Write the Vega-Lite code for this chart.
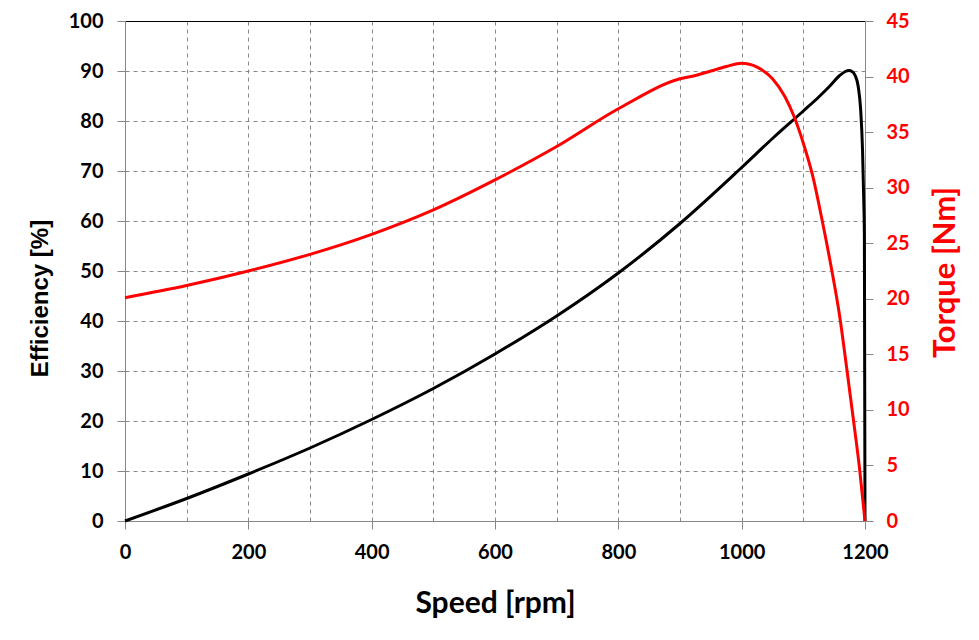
{
  "$schema": "https://vega.github.io/schema/vega-lite/v6.json",
  "width": 740,
  "height": 500,
  "autosize": "none",
  "padding": {"left": 125, "top": 21, "right": 114, "bottom": 119},
  "background": "white",
  "config": {"view": {"stroke": null}},
  "datasets": {
    "eff": [
      {"rpm": 0, "eff": 0}, {"rpm": 100, "eff": 4.5}, {"rpm": 200, "eff": 9.4}, {"rpm": 300, "eff": 14.6},
      {"rpm": 400, "eff": 20.3}, {"rpm": 500, "eff": 26.5}, {"rpm": 600, "eff": 33.4}, {"rpm": 700, "eff": 41.0},
      {"rpm": 800, "eff": 49.6}, {"rpm": 900, "eff": 59.5}, {"rpm": 1000, "eff": 70.7}, {"rpm": 1050, "eff": 76.5},
      {"rpm": 1100, "eff": 82.0}, {"rpm": 1125, "eff": 84.8}, {"rpm": 1143, "eff": 87.0}, {"rpm": 1158, "eff": 89.0},
      {"rpm": 1168, "eff": 89.9}, {"rpm": 1174, "eff": 90.1}, {"rpm": 1179, "eff": 89.9}, {"rpm": 1184, "eff": 89.1},
      {"rpm": 1189, "eff": 86.9}, {"rpm": 1193, "eff": 82.2}, {"rpm": 1196, "eff": 74.2}, {"rpm": 1198, "eff": 64.0},
      {"rpm": 1199, "eff": 57.0}, {"rpm": 1200, "eff": 0}
    ],
    "torque": [
      {"rpm": 0, "torque": 20.1}, {"rpm": 100, "torque": 21.2}, {"rpm": 200, "torque": 22.5}, {"rpm": 300, "torque": 24.0},
      {"rpm": 400, "torque": 25.8}, {"rpm": 500, "torque": 28.0}, {"rpm": 600, "torque": 30.7}, {"rpm": 700, "torque": 33.7},
      {"rpm": 800, "torque": 37.1}, {"rpm": 900, "torque": 39.8}, {"rpm": 925, "torque": 40.1}, {"rpm": 950, "torque": 40.5},
      {"rpm": 975, "torque": 40.9}, {"rpm": 1000, "torque": 41.2}, {"rpm": 1025, "torque": 40.85}, {"rpm": 1050, "torque": 39.8},
      {"rpm": 1070, "torque": 38.2}, {"rpm": 1085, "torque": 36.4}, {"rpm": 1100, "torque": 34.0}, {"rpm": 1115, "torque": 31.1},
      {"rpm": 1130, "torque": 27.2}, {"rpm": 1145, "torque": 22.9}, {"rpm": 1159, "torque": 18.4}, {"rpm": 1170, "torque": 13.9},
      {"rpm": 1181, "torque": 9.2}, {"rpm": 1191, "torque": 4.8}, {"rpm": 1200, "torque": 0}
    ]
  },
  "encoding": {
    "x": {
      "field": "rpm", "type": "quantitative",
      "scale": {"domain": [0, 1200], "nice": false, "zero": false},
      "axis": {
        "values": [0, 100, 200, 300, 400, 500, 600, 700, 800, 900, 1000, 1100, 1200],
        "format": "d",
        "labelExpr": "datum.value % 200 === 0 ? datum.label : ''",
        "labelFlush": false,
        "labelOverlap": false,
        "labelFont": "Lato",
        "labelFontSize": 20,
        "labelFontWeight": "bold",
        "labelColor": "#000000",
        "labelPadding": 13,
        "tickSize": 8,
        "tickColor": "#888888",
        "tickOpacity": {"condition": {"test": "datum.value % 200 === 0", "value": 1}, "value": 0},
        "domainColor": "#888888",
        "domainWidth": 1,
        "grid": true,
        "gridColor": "#888888",
        "gridDash": [4, 4],
        "gridWidth": 1,
        "gridOpacity": {"condition": {"test": "datum.value === 0 || datum.value === 1200", "value": 0}, "value": 1},
        "title": "Speed [rpm]",
        "titleFont": "Lato",
        "titleFontSize": 30,
        "titleFontWeight": "bold",
        "titleColor": "#000000",
        "titleX": 370,
        "titleY": 82,
        "titleBaseline": "middle",
        "titleAlign": "center"
      }
    }
  },
  "layer": [
    {
      "data": {"name": "eff"},
      "mark": {"type": "line", "color": "#000000", "strokeWidth": 3, "interpolate": "monotone"},
      "encoding": {
        "y": {
          "field": "eff", "type": "quantitative",
          "scale": {"domain": [0, 100], "nice": false},
          "axis": {
            "orient": "left",
            "values": [0, 10, 20, 30, 40, 50, 60, 70, 80, 90, 100],
            "labelFont": "Lato",
            "labelFontSize": 20,
            "labelFontWeight": "bold",
            "labelColor": "#000000",
            "labelPadding": 14,
            "labelFlush": false,
            "labelOverlap": false,
            "tickSize": 8,
            "tickColor": "#888888",
            "domainColor": "#888888",
            "grid": true,
            "gridColor": {"condition": {"test": "datum.value === 100", "value": "#000000"}, "value": "#888888"},
            "gridDash": {"condition": {"test": "datum.value === 100", "value": []}, "value": [4, 4]},
            "gridOpacity": {"condition": {"test": "datum.value === 0", "value": 0}, "value": 1},
            "gridWidth": 1,
            "title": "Efficiency [%]",
            "titleFont": "Liberation Sans",
            "titleFontSize": 24,
            "titleFontWeight": "bold",
            "titleColor": "#000000",
            "titleAngle": -90,
            "titleX": -85,
            "titleY": 277,
            "titleAlign": "center",
            "titleBaseline": "middle"
          }
        }
      }
    },
    {
      "data": {"name": "torque"},
      "mark": {"type": "line", "color": "#ff0000", "strokeWidth": 3, "interpolate": "monotone"},
      "encoding": {
        "y": {
          "field": "torque", "type": "quantitative",
          "scale": {"domain": [0, 45], "nice": false},
          "axis": {
            "orient": "right",
            "values": [0, 5, 10, 15, 20, 25, 30, 35, 40, 45],
            "labelFont": "Lato",
            "labelFontSize": 20,
            "labelFontWeight": "bold",
            "labelColor": "#ff0000",
            "labelPadding": 13,
            "labelFlush": false,
            "labelOverlap": false,
            "tickSize": 8,
            "tickColor": "#888888",
            "domainColor": "#888888",
            "grid": false,
            "title": "Torque [Nm]",
            "titleFont": "Lato",
            "titleFontSize": 31,
            "titleFontWeight": "bold",
            "titleColor": "#ff0000",
            "titleAngle": -90,
            "titleX": 80,
            "titleY": 251,
            "titleAlign": "center",
            "titleBaseline": "middle"
          }
        }
      }
    }
  ],
  "resolve": {"scale": {"y": "independent"}, "axis": {"y": "independent"}}
}
